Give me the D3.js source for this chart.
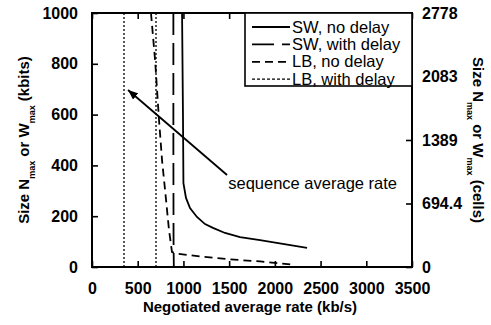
<!DOCTYPE html>
<html>
<head>
<meta charset="utf-8">
<script src="https://cdn.jsdelivr.net/npm/d3@7"></script>
<style>
  body { margin: 0; background: #fff; }
  text { font-family: "Liberation Sans", Arial, sans-serif; fill: #000; }
</style>
</head>
<body>
<div id="chart"></div>
<script>
// values: [negotiated rate kb/s, size kbits]
const swNoDelay = [[985, 1000], [995, 600], [1000, 330], [1028, 272], [1072, 232], [1148, 197],
  [1236, 169], [1323, 154], [1455, 134], [1619, 118], [1838, 106], [2352, 75]];
const swWithDelay = [[890, 1000], [890, 500], [892, 100], [895, 0]];
const lbNoDelay = [[645, 1000], [690, 815], [733, 579], [766, 421], [810, 264], [842, 146],
  [875, 59], [930, 52], [1180, 42], [1510, 30], [1838, 22], [2170, 10]];
const lbWithDelay = [[700, 0], [700, 1000]];
const avgRateLine = [[350, 0], [350, 1000]];

const xTicks = [0, 500, 1000, 1500, 2000, 2500, 3000, 3500];
const yTicks = [0, 200, 400, 600, 800, 1000];
const cellTicks = [0, 694.4, 1389, 2083, 2778];
const cellTickLabels = ['0', '694.4', '1389', '2083', '2778'];

const legendNames = ['SW, no delay', 'SW, with delay', 'LB, no delay', 'LB, with delay'];

const W = 491, H = 325;
const margin = { top: 13, right: 79, bottom: 58, left: 92 };

const svg = d3.select('#chart').append('svg')
  .attr('width', W).attr('height', H);

const x = d3.scaleLinear().domain([0, 3500]).range([margin.left, W - margin.right]);
const y = d3.scaleLinear().domain([0, 1000]).range([H - margin.bottom, margin.top]);
const yCells = d3.scaleLinear().domain([0, 1000 / 0.36]).range([H - margin.bottom, margin.top]);

svg.append('clipPath').attr('id', 'plotClip')
  .append('rect')
  .attr('x', x(0)).attr('y', y(1000))
  .attr('width', x(3500) - x(0)).attr('height', y(0) - y(1000));

// axes, ticks pointing inward
const tickFont = g => g.selectAll('text')
  .attr('font-size', '16px').attr('font-weight', 'bold').attr('fill', '#000');
const tickLines = g => {
  g.select('.domain').remove();
  g.selectAll('line').attr('stroke', '#000').attr('stroke-width', 1.6);
};

svg.append('g')
  .attr('transform', `translate(0,${y(0)})`)
  .call(d3.axisBottom(x).tickValues(xTicks).tickSizeInner(-6).tickSizeOuter(0).tickPadding(16).tickFormat(d3.format('d')))
  .call(tickLines).call(tickFont)
  .call(g => g.attr('font-family', null));

svg.append('g')
  .attr('transform', `translate(0,${y(1000)})`)
  .call(d3.axisTop(x).tickValues(xTicks).tickSizeInner(-6).tickSizeOuter(0).tickFormat(''))
  .call(tickLines);

svg.append('g')
  .attr('transform', `translate(${x(0)},0)`)
  .call(d3.axisLeft(y).tickValues(yTicks).tickSizeInner(-6).tickSizeOuter(0).tickPadding(14).tickFormat(d3.format('d')))
  .call(tickLines).call(tickFont)
  .call(g => g.attr('font-family', null));

svg.append('g')
  .attr('transform', `translate(${x(3500)},0)`)
  .call(d3.axisRight(yCells).tickValues(cellTicks).tickSizeInner(-6).tickSizeOuter(0).tickPadding(10)
    .tickFormat((d, i) => cellTickLabels[i]))
  .call(tickLines).call(tickFont)
  .call(g => g.attr('font-family', null));

// data lines
const line = d3.line().x(d => x(d[0])).y(d => y(d[1]));
const plot = svg.append('g').attr('clip-path', 'url(#plotClip)');

const series = [
  { data: swNoDelay, dash: null, width: 1.8 },
  { data: swWithDelay, dash: '22,8', width: 1.8 },
  { data: lbNoDelay, dash: '8,5', width: 1.8 },
  { data: lbWithDelay, dash: '2,2', width: 1.3 },
  { data: avgRateLine, dash: '2,2', width: 1.3 }
];

plot.selectAll('path.series')
  .data(series)
  .enter()
  .append('path')
    .attr('class', 'series')
    .attr('d', d => line(d.data))
    .attr('fill', 'none')
    .attr('stroke', '#000')
    .attr('stroke-width', d => d.width)
    .attr('stroke-dasharray', d => d.dash);

// frame
svg.append('rect')
  .attr('x', x(0)).attr('y', y(1000))
  .attr('width', x(3500) - x(0)).attr('height', y(0) - y(1000))
  .attr('fill', 'none').attr('stroke', '#000').attr('stroke-width', 2);

// annotation arrow
const arrowTail = [1477, 362], arrowTip = [394, 697];
svg.append('defs').append('marker')
  .attr('id', 'arrowHead')
  .attr('viewBox', '0 0 10 8')
  .attr('refX', 10).attr('refY', 4)
  .attr('markerWidth', 10).attr('markerHeight', 8)
  .attr('markerUnits', 'userSpaceOnUse')
  .attr('orient', 'auto')
  .append('path').attr('d', 'M0,0 L10,4 L0,8 Z').attr('fill', '#000');

svg.append('line')
  .attr('x1', x(arrowTail[0])).attr('y1', y(arrowTail[1]))
  .attr('x2', x(arrowTip[0])).attr('y2', y(arrowTip[1]))
  .attr('stroke', '#000').attr('stroke-width', 1.8)
  .attr('marker-end', 'url(#arrowHead)');

svg.append('text')
  .attr('x', x(1490)).attr('y', y(307))
  .attr('font-size', '16.5px')
  .text('sequence average rate');

// legend
const legend = svg.append('g');
legend.append('rect')
  .attr('x', 245).attr('y', 13).attr('width', 167).attr('height', 73)
  .attr('fill', '#fff').attr('stroke', '#000').attr('stroke-width', 1.6);

const rows = legend.selectAll('g.row')
  .data(legendNames)
  .enter()
  .append('g')
    .attr('class', 'row')
    .attr('transform', (d, i) => `translate(0,${27 + i * 17.4})`);

rows.append('line')
  .attr('x1', 252).attr('x2', 290)
  .attr('stroke', '#000')
  .attr('stroke-width', (d, i) => series[i].width)
  .attr('stroke-dasharray', (d, i) => series[i].dash === '2,2' ? '3,2' : series[i].dash);

rows.append('text')
  .attr('x', 292).attr('y', 5.5)
  .attr('font-size', '16.5px')
  .text(d => d);

// axis titles
svg.append('text')
  .attr('x', 250).attr('y', 312)
  .attr('text-anchor', 'middle')
  .attr('font-size', '15px').attr('font-weight', 'bold')
  .text('Negotiated average rate (kb/s)');

function sizeTitle(unit) {
  return t => {
    t.append('tspan').text('Size N');
    t.append('tspan').attr('font-size', '9px').attr('dy', 6).text('max');
    t.append('tspan').attr('dy', -6).text(' or W');
    t.append('tspan').attr('font-size', '9px').attr('dy', 6).text('max');
    t.append('tspan').attr('dy', -6).text(` (${unit})`);
  };
}

svg.append('text')
  .attr('transform', `translate(29,${(y(0) + y(1000)) / 2}) rotate(-90)`)
  .attr('text-anchor', 'middle')
  .attr('font-size', '15px').attr('font-weight', 'bold')
  .call(sizeTitle('kbits'));

svg.append('text')
  .attr('transform', `translate(473,${(y(0) + y(1000)) / 2}) rotate(90)`)
  .attr('text-anchor', 'middle')
  .attr('font-size', '15px').attr('font-weight', 'bold')
  .call(sizeTitle('cells'));
</script>
</body>
</html>
